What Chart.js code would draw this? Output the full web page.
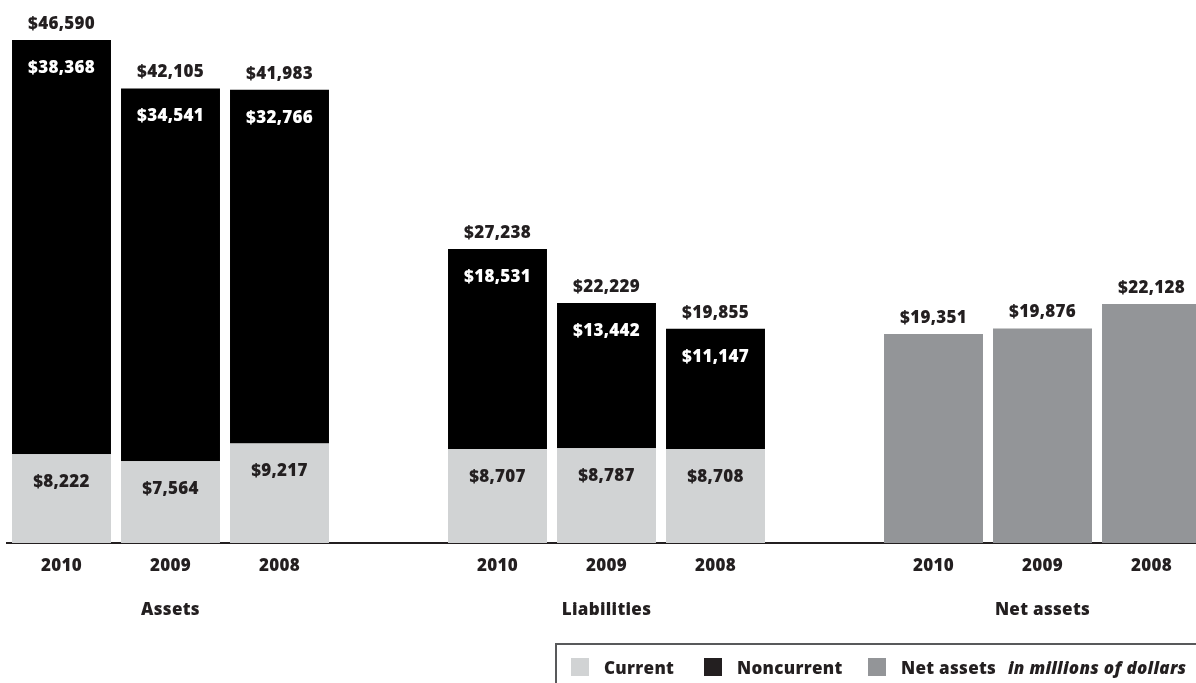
<!DOCTYPE html>
<html>
<head>
<meta charset="utf-8">
<title>Assets, liabilities and net assets</title>
<script src="https://cdn.jsdelivr.net/npm/chart.js@4.4.1/dist/chart.umd.min.js"></script>
<style>
  html, body { margin: 0; padding: 0; overflow: hidden; background: #fff; }
  #wrap { position: relative; width: 1196px; height: 683px; overflow: hidden; }
  #chart { position: absolute; left: 0; top: 0; }
  #legend {
    position: absolute; left: 555px; top: 643px; width: 700px; height: 60px;
    border-top: 2px solid #58595b; border-left: 2px solid #58595b;
    font: 800 17px "Open Sans"; letter-spacing: 0.3px; color: #231f20;
  }
  #legend .item { position: absolute; top: 13px; height: 18px; display: flex; align-items: center; white-space: nowrap; }
  #legend .sw { width: 18px; height: 18px; margin-right: 15px; }
  #legend .note { font-style: italic; }
</style>
</head>
<body>
<div id="wrap">
  <canvas id="chart" width="1210" height="683"></canvas>
  <div id="legend"></div>
</div>
<script>
// in millions of dollars
const years = ['2010', '2009', '2008'];
const groups = ['Assets', 'Liabilities', 'Net assets'];
const currentAssets = [8222, 7564, 9217];
const noncurrentAssets = [38368, 34541, 32766];
const totalAssets = [46590, 42105, 41983];
const currentLiabilities = [8707, 8787, 8708];
const noncurrentLiabilities = [18531, 13442, 11147];
const totalLiabilities = [27238, 22229, 19855];
const netAssets = [19351, 19876, 22128];

const COLORS = { current: '#d1d3d4', noncurrent: '#000000', net: '#939598', text: '#231f20' };
const FONT = '"Open Sans", sans-serif';

// one empty slot between the three groups
const none3 = [null, null, null];
const labels = [...years, '', ...years, '', ...years];
const currentData = [...currentAssets, null, ...currentLiabilities, null, ...none3];
const noncurrentData = [...noncurrentAssets, null, ...noncurrentLiabilities, null, ...none3];
const totalData = [...totalAssets, null, ...totalLiabilities, null, ...none3];
const netData = [...none3, null, ...none3, null, ...netAssets];
const groupCenters = [1, 5, 9];

const money = v => '$' + v.toLocaleString('en-US');

const valueLabels = {
  id: 'valueLabels',
  beforeDraw(chart) {
    chart.ctx.letterSpacing = '0.3px';
  },
  afterDatasetsDraw(chart) {
    const ctx = chart.ctx;
    ctx.save();
    ctx.font = '800 17px ' + FONT;
    ctx.textAlign = 'center';
    ctx.textBaseline = 'middle';

    const put = (text, x, y, color) => {
      ctx.fillStyle = color;
      ctx.fillText(text, x, y);
    };

    chart.getDatasetMeta(0).data.forEach((el, i) => {
      if (currentData[i] == null) return;
      put(money(currentData[i]), el.x, el.y + 28, COLORS.text);
    });
    chart.getDatasetMeta(1).data.forEach((el, i) => {
      if (noncurrentData[i] == null) return;
      put(money(noncurrentData[i]), el.x, el.y + 28, '#ffffff');
      put(money(totalData[i]), el.x, el.y - 16, COLORS.text);
    });
    chart.getDatasetMeta(2).data.forEach((el, i) => {
      if (netData[i] == null) return;
      put(money(netData[i]), el.x, el.y - 16, COLORS.text);
    });

    // group names under the middle year of each group
    const xs = chart.scales.x;
    groups.forEach((g, k) => {
      put(g, xs.getPixelForValue(groupCenters[k]), chart.chartArea.bottom + 67, COLORS.text);
    });
    ctx.restore();
  }
};

const chart = new Chart(document.getElementById('chart'), {
  type: 'bar',
  data: {
    labels: labels,
    datasets: [
      { label: 'Current', data: currentData, backgroundColor: COLORS.current },
      { label: 'Noncurrent', data: noncurrentData, backgroundColor: COLORS.noncurrent },
      { label: 'Net assets', data: netData, backgroundColor: COLORS.net }
    ]
  },
  options: {
    responsive: false,
    animation: false,
    categoryPercentage: 0.908,
    barPercentage: 1,
    layout: { padding: { left: 7, right: 4, top: 0, bottom: 0 } },
    plugins: { legend: { display: false }, tooltip: { enabled: false } },
    scales: {
      x: {
        stacked: true,
        grid: { display: false },
        border: { display: true, color: COLORS.text, width: 2 },
        ticks: {
          color: COLORS.text,
          font: { family: FONT, size: 17, weight: 800 },
          padding: 5,
          autoSkip: false,
          maxRotation: 0
        },
        afterFit: s => { s.height = 140; }
      },
      y: { stacked: true, display: false, min: 0, max: 50300 }
    }
  },
  plugins: [valueLabels]
});

// legend row, in millions of dollars
const legendItems = [
  { text: 'Current', color: COLORS.current, left: 14 },
  { text: 'Noncurrent', color: '#231f20', left: 147 },
  { text: 'Net assets', color: COLORS.net, left: 311 }
];
const legend = document.getElementById('legend');
legendItems.forEach(it => {
  const d = document.createElement('div');
  d.className = 'item';
  d.style.left = it.left + 'px';
  d.innerHTML = '<span class="sw" style="background:' + it.color + '"></span><span>' + it.text + '</span>';
  legend.appendChild(d);
});
const note = document.createElement('div');
note.className = 'item note';
note.style.left = '451px';
note.textContent = 'in millions of dollars';
legend.appendChild(note);
</script>
</body>
</html>
